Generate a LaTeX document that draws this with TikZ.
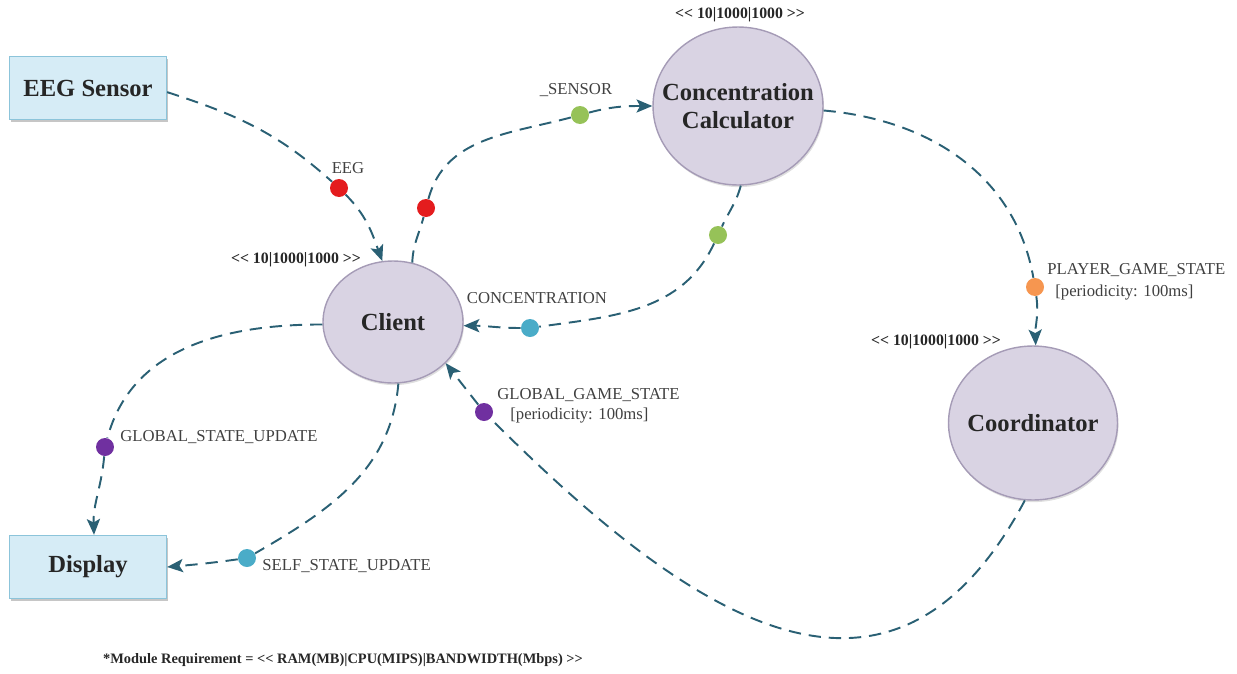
\documentclass[tikz,border=0pt]{standalone}
\usepackage{fontspec}
\setmainfont{Liberation Serif}
\usetikzlibrary{shapes.geometric,arrows.meta,shadows}
\definecolor{flowline}{RGB}{42,96,116}
\definecolor{modfill}{RGB}{217,211,227}
\definecolor{moddraw}{RGB}{165,155,182}
\definecolor{devfill}{RGB}{214,236,246}
\definecolor{devdraw}{RGB}{140,196,218}
\definecolor{tupred}{RGB}{228,28,30}
\definecolor{tupgreen}{RGB}{150,194,88}
\definecolor{tupblue}{RGB}{74,172,200}
\definecolor{tuppurple}{RGB}{112,48,160}
\definecolor{tuporange}{RGB}{246,150,80}
\begin{document}
\begin{tikzpicture}[x=0.02cm,y=0.02cm]
\tikzstyle{module}=[ellipse, draw=moddraw, line width=0.8pt, fill=modfill, inner sep=0pt, drop shadow={opacity=0.25,shadow xshift=0.6pt,shadow yshift=-1.2pt}]
\tikzstyle{modtext}=[font=\fontsize{14}{16}\selectfont\bfseries, align=center, text=black!85, inner sep=0pt]
\tikzstyle{device}=[rectangle, draw=devdraw, line width=0.8pt, fill=devfill, minimum width=3.14cm, minimum height=1.26cm, font=\fontsize{14}{16}\selectfont\bfseries, text=black!85, drop shadow={opacity=0.45,shadow xshift=1pt,shadow yshift=-1.6pt}]
\tikzstyle{tuple}=[circle, inner sep=0pt, minimum size=0.36cm]
\tikzstyle{flow}=[draw=flowline, line width=1.1pt, dash pattern=on 7pt off 4.5pt, -{Stealth[length=9pt,width=7.5pt,inset=2pt]}]
\tikzstyle{tlabel}=[font=\fontsize{9.5}{11}\selectfont, text=black!75, inner sep=0pt]
\tikzstyle{req}=[font=\fontsize{9}{11}\selectfont\bfseries, text=black!85, inner sep=0pt]
\useasboundingbox (0,0) rectangle (1237,-673);
\node[device] (eeg) at (88,-88) {EEG Sensor};
\node[device] (disp) at (88,-567) {Display};
\node[module, minimum width=2.8cm, minimum height=2.44cm, label={[modtext]center:Client}] (client) at (393,-322) {};
\node[module, minimum width=3.4cm, minimum height=3.16cm, label={[modtext]center:Concentration\\Calculator}] (cc) at (738,-106) {};
\node[module, minimum width=3.38cm, minimum height=3.08cm, label={[modtext]center:Coordinator}] (coord) at (1033,-423) {};
\node[req] (reqclient) at (296,-260) {<{}< 10|1000|1000 >{}>};
\node[req] (reqcc) at (740,-15) {<{}< 10|1000|1000 >{}>};
\node[req] (reqcoord) at (936,-342) {<{}< 10|1000|1000 >{}>};
\node[tuple, fill=tupred] (dR1) at (339,-188) {};
\node[tuple, fill=tupred] (dR2) at (426,-208) {};
\node[tuple, fill=tupgreen] (dG1) at (580,-115) {};
\node[tuple, fill=tupgreen] (dG2) at (718,-235) {};
\node[tuple, fill=tupblue] (dB1) at (530,-328) {};
\node[tuple, fill=tuporange] (dO) at (1035,-287) {};
\node[tuple, fill=tuppurple] (dP1) at (105,-447) {};
\node[tuple, fill=tuppurple] (dP2) at (484,-412) {};
\node[tuple, fill=tupblue] (dB2) at (247,-558) {};
\node[tlabel] (lEEG) at (348,-168) {EEG};
\node[tlabel] (lSensor) at (576,-90) {\_SENSOR};
\node[tlabel] (lConc) at (537,-298) {CONCENTRATION};
\node[tlabel, anchor=west] (lPlayer) at (1047,-270) {PLAYER\_GAME\_STATE};
\node[tlabel, anchor=west] (lPlayerP) at (1055,-293) {[periodicity: 100ms]};
\node[tlabel, anchor=west] (lGlobal) at (497,-395) {GLOBAL\_GAME\_STATE};
\node[tlabel, anchor=west] (lGlobalP) at (510,-416) {[periodicity: 100ms]};
\node[tlabel, anchor=west] (lGsu) at (120,-437) {GLOBAL\_STATE\_UPDATE};
\node[tlabel, anchor=west] (lSsu) at (262,-566) {SELF\_STATE\_UPDATE};
\node[req, font=\fontsize{8.2}{10}\selectfont\bfseries] (note) at (343,-660) {*Module Requirement = <{}< RAM(MB)|CPU(MIPS)|BANDWIDTH(Mbps) >{}>};
\draw[flow] (eeg.-3) to[out=-18,in=138] (dR1) to[out=-45,in=110] (client.100);
\draw[flow] (client.72) to[out=88,in=-105] (dR2) to[out=75,in=195] (dG1) to[out=15,in=180] (cc.west);
\draw[flow] (cc.-88) to[out=-105,in=65] (dG2) to[out=-115,in=8] (dB1) to[out=180,in=0] (client.-3);
\draw[flow] (cc.-3) to[out=-5,in=100] (dO) to[out=-82,in=92] (coord.88);
\draw[flow] (coord.264) to[out=-118,in=-45,looseness=1.35] (dP2) -- (client.-38);
\draw[flow] (client.182) to[out=180,in=75] (dP1) to[out=-95,in=92] ([xshift=0.12cm]disp.north);
\draw[flow] (client.-85) to[out=-95,in=30] (dB2) to[out=-172,in=5] (disp.east);
\end{tikzpicture}
\end{document}
